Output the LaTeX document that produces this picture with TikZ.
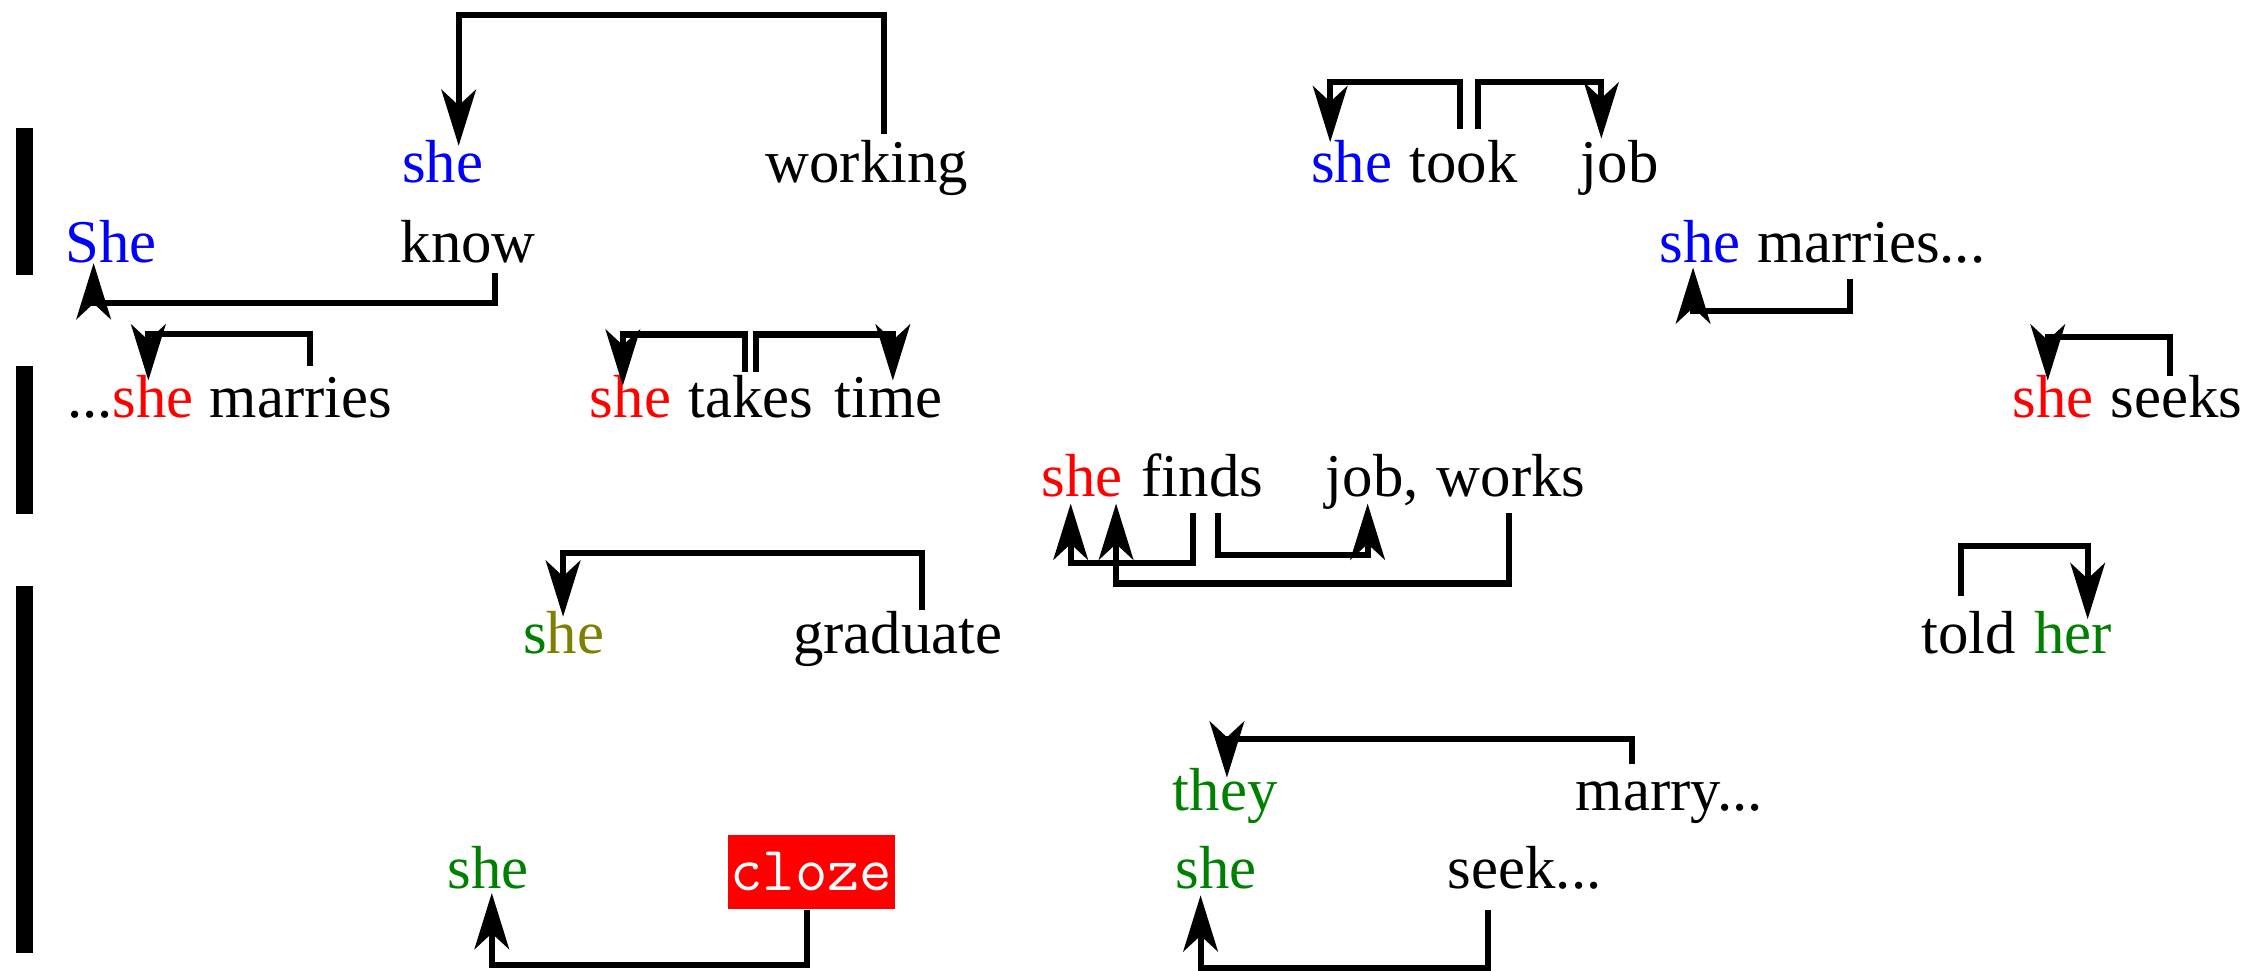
\documentclass[tikz,border=0pt]{standalone}
\usepackage{fontspec}
\setmainfont{Liberation Serif}
\usetikzlibrary{arrows.meta}
\definecolor{wgreen}{RGB}{0,128,0}
\definecolor{wolive}{RGB}{128,128,0}
\tikzset{
    word/.style={inner sep=0pt, anchor=base west, text height=0.25cm, text depth=0.04cm,
        font=\fontsize{12}{14}\selectfont},
    dep/.style={line width=1.2pt, -{Stealth[length=3.9mm, width=2.4mm, inset=1.1mm]}},
    bar/.style={fill=black}
}
\begin{document}
\begin{tikzpicture}[x=0.01cm, y=-0.01cm]
    \useasboundingbox (0, 0) rectangle (1568, 674);
    % Bars
    \fill [bar] (11, 89) rectangle (23, 191);
    \fill [bar] (11, 254) rectangle (23, 357);
    \fill [bar] (11, 407) rectangle (23, 662);
    % Words
    \node [word, text=blue] (she1) at (278.5, 127) {she};
    \node [word] (working) at (531, 127) {working};
    \node [word, text=blue] (she2) at (909.7, 127) {she};
    \node [word] (took) at (978, 127) {took};
    \node [word] (job) at (1097, 127) {job};
    \node [word, text=blue] (She) at (45, 182) {She};
    \node [word] (know) at (277.5, 182) {know};
    \node [word, text=blue] (she3) at (1152, 182) {she};
    \node [word] (marries1) at (1219.7, 182) {marries...};
    \node [word] (dots) at (46, 290) {...};
    \node [word, text=red] (she4) at (77.5, 290) {she};
    \node [word] (marries2) at (145, 290) {marries};
    \node [word, text=red] (she5) at (409, 290) {she};
    \node [word] (takes) at (477.5, 290) {takes};
    \node [word] (time) at (579, 290) {time};
    \node [word, text=red] (she6) at (1397, 290) {she};
    \node [word] (seeks) at (1465, 290) {seeks};
    \node [word, text=red] (she7) at (722.5, 345) {she};
    \node [word] (finds) at (792, 345) {finds};
    \node [word] (job2) at (920, 345) {job,};
    \node [word] (works) at (997, 345) {works};
    \node [word] (she8) at (362.5, 454) {\textcolor{wgreen}{s}\textcolor{wolive}{he}};
    \node [word] (graduate) at (550, 454) {graduate};
    \node [word] (told) at (1333.7, 454) {told};
    \node [word, text=wgreen] (her) at (1412, 454) {her};
    \node [word, text=wgreen] (they) at (813.7, 562.7) {they};
    \node [word] (marry) at (1093.7, 562.7) {marry...};
    \node [word, text=wgreen] (she9) at (310, 617) {she};
    \node [fill=red, text=white, inner sep=0pt, minimum width=1.16cm, minimum height=0.51cm,
        font=\ttfamily\fontsize{12.4}{14}\selectfont] (cloze) at (563.5, 605.5) {cloze};
    \node [word, text=wgreen] (she10) at (815.7, 617) {she};
    \node [word] (seek) at (1004.7, 617) {seek...};
    % Arcs
    \draw [dep] ([xshift=8.3mm, yshift=0.8mm]working.north west) -- ++(0, -83)
        -| ([xshift=4mm]she1.north west);
    \draw [dep] ([xshift=6.65mm, yshift=-0.26mm]know.south west) -- ++(0, 21.4)
        -| ([xshift=2mm, yshift=0.4mm]She.south west);
    \draw [dep] ([xshift=7mm, yshift=1mm]marries2.north west) -- ++(0, -22.6)
        -| ([xshift=2.55mm]she4.north west);
    \draw [dep] ([xshift=4mm, yshift=0.6mm]takes.north west) -- ++(0, -26)
        -| ([xshift=2.35mm, yshift=-0.35mm]she5.north west);
    \draw [dep] ([xshift=4.75mm, yshift=0.6mm]takes.north west) -- ++(0, -26)
        -| ([xshift=4.1mm]time.north west);
    \draw [dep] ([xshift=3.57mm, yshift=1.2mm]took.north west) -- ++(0, -32)
        -| ([xshift=1.4mm, yshift=0.25mm]she2.north west);
    \draw [dep] ([xshift=4.82mm, yshift=1.2mm]took.north west) -- ++(0, -32)
        -| ([xshift=1.5mm, yshift=0.5mm]job.north west);
    \draw [dep] ([xshift=6.5mm, yshift=-0.7mm]marries1.south west) -- ++(0, 22)
        -| ([xshift=2.37mm, yshift=0.1mm]she3.south west);
    \draw [dep] ([xshift=4.2mm, yshift=0.34mm]seeks.north west) -- ++(0, -26.6)
        -| ([xshift=2.5mm]she6.north west);
    \draw [dep] ([xshift=3.67mm, yshift=-0.65mm]finds.south west) -- ++(0, 34.5)
        -| ([xshift=2.1mm]she7.south west);
    \draw [dep] ([xshift=5.37mm, yshift=-0.65mm]finds.south west) -- ++(0, 29)
        -| ([xshift=2.97mm]job2.south west);
    \draw [dep] ([xshift=5.1mm, yshift=-0.65mm]works.south west) -- ++(0, 49)
        -| ([xshift=5.25mm]she7.south west);
    \draw [dep] ([xshift=9mm, yshift=0.45mm]graduate.north west) -- ++(0, -40)
        -| ([xshift=2.85mm]she8.north west);
    \draw [dep] ([xshift=2.83mm, yshift=1.45mm]told.north west) -- ++(0, -34.5)
        -| ([xshift=3.77mm, yshift=-0.17mm]her.north west);
    \draw [dep] ([xshift=3.93mm, yshift=0.67mm]marry.north west) -- ++(0, -17)
        -| ([xshift=3.83mm, yshift=-0.3mm]they.north west);
    \draw [dep] ([xshift=-0.3mm]cloze.south) -- ++(0, 38.5)
        -| ([xshift=3.15mm, yshift=0.16mm]she9.south west);
    \draw [dep] ([xshift=2.83mm, yshift=-1mm]seek.south west) -- ++(0, 40.5)
        -| ([xshift=1.8mm]she10.south west);
\end{tikzpicture}
\end{document}
